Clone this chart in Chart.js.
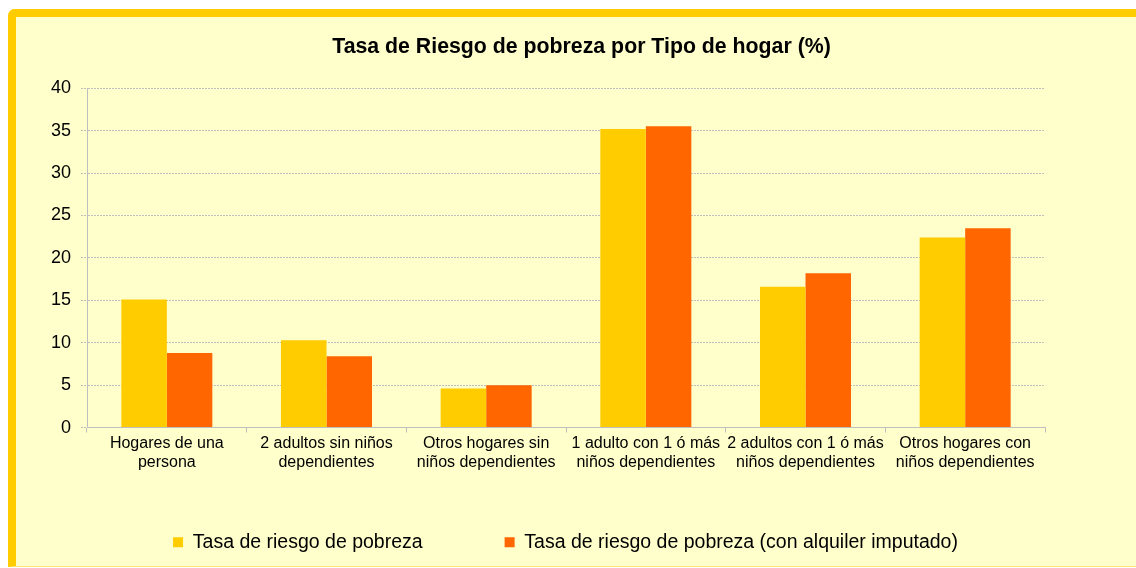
<!DOCTYPE html>
<html>
<head>
<meta charset="utf-8">
<script src="https://cdn.jsdelivr.net/npm/chart.js@4/dist/chart.umd.min.js"></script>
<style>
  html, body { margin: 0; padding: 0; background: #fff; overflow: hidden; }
  body { width: 1136px; height: 568px; position: relative; }
  .frame {
    position: absolute; left: 8px; top: 9px; width: 1200px; height: 549px;
    background: #FFFFCC;
    border-top: 8px solid #FFCC00; border-left: 8px solid #FFCC00;
    border-bottom: 1px solid #FFE680;
    border-top-left-radius: 7px;
  }
  #chart { position: absolute; left: 0; top: 0; }
</style>
</head>
<body>
<div class="frame"></div>
<canvas id="chart" width="1136" height="568"></canvas>
<script>
// ====================================================================
// TASA DE RIESGO DE POBREZA POR TIPO DE HOGAR
// ====================================================================

const categories = [
  ['Hogares de una', 'persona'],
  ['2 adultos sin niños', 'dependientes'],
  ['Otros hogares sin', 'niños dependientes'],
  ['1 adulto con 1 ó más', 'niños dependientes'],
  ['2 adultos con 1 ó más', 'niños dependientes'],
  ['Otros hogares con', 'niños dependientes']
];
const tasaRiesgo = [15.1, 10.3, 4.6, 35.2, 16.6, 22.4];
const tasaRiesgoAlquiler = [8.8, 8.4, 5.0, 35.5, 18.2, 23.5];
const yTicks = [0, 5, 10, 15, 20, 25, 30, 35, 40];

const FONT = 'Arial, "Liberation Sans", sans-serif';
const GRID = '#BFBFBF';

// the legend items sit far apart (wide label padding); pull the legend box
// back up under the axis labels so the row lands near the frame bottom
const legendPlacer = {
  id: 'legendPlacer',
  afterLayout(chart) {
    const lg = chart.legend;
    const area = chart.chartArea;
    lg.left = -5;
    lg.right = chart.width;
    lg.width = lg.right - lg.left;
    lg.top = area.bottom + 23;
    lg.bottom = chart.height;
    lg.height = lg.bottom - lg.top;
  }
};

const ctx = document.getElementById('chart').getContext('2d');

new Chart(ctx, {
  type: 'bar',
  data: {
    labels: categories,
    datasets: [
      {
        label: 'Tasa de riesgo de pobreza',
        data: tasaRiesgo,
        backgroundColor: '#FFCC00',
        borderWidth: 0
      },
      {
        label: 'Tasa de riesgo de pobreza (con alquiler imputado)',
        data: tasaRiesgoAlquiler,
        backgroundColor: '#FF6600',
        borderWidth: 0
      }
    ]
  },
  options: {
    responsive: false,
    animation: false,
    layout: { padding: { left: 27, right: 0, top: 17, bottom: 0 } },
    datasets: {
      bar: { barPercentage: 1, categoryPercentage: 0.57 }
    },
    scales: {
      x: {
        grid: {
          drawOnChartArea: false,
          color: GRID,
          tickLength: 5
        },
        border: { color: GRID, width: 1 },
        ticks: {
          color: '#000',
          padding: 1,
          maxRotation: 0,
          autoSkip: false,
          font: { family: FONT, size: 16, lineHeight: 1.2 }
        }
      },
      y: {
        min: 0,
        max: 40,
        afterBuildTicks: s => { s.ticks = yTicks.map(v => ({ value: v })); },
        grid: {
          color: GRID,
          tickLength: 6,
          tickBorderDash: [2, 1],
          drawTicks: true
        },
        border: { color: GRID, width: 1, dash: [2, 1] },
        ticks: {
          color: '#000',
          padding: 10,
          font: { family: FONT, size: 18 }
        },
        afterFit: s => { s.width = 60; }
      },
      yRight: {
        position: 'right',
        display: true,
        grid: { display: false },
        border: { display: false },
        ticks: { display: false },
        afterFit: s => { s.width = 91; }
      }
    },
    plugins: {
      title: {
        display: true,
        text: 'Tasa de Riesgo de pobreza por Tipo de hogar (%)',
        color: '#000',
        font: { family: FONT, size: 21.3, weight: 'bold', lineHeight: 1.2 },
        padding: { top: 17.2, bottom: 28.4 }
      },
      legend: {
        position: 'bottom',
        maxHeight: 95,
        labels: {
          color: '#000',
          boxWidth: 10,
          boxHeight: 10,
          padding: 82,
          font: { family: FONT, size: 19.5 }
        }
      },
      tooltip: { enabled: false }
    }
  },
  plugins: [legendPlacer]
});
</script>
</body>
</html>
